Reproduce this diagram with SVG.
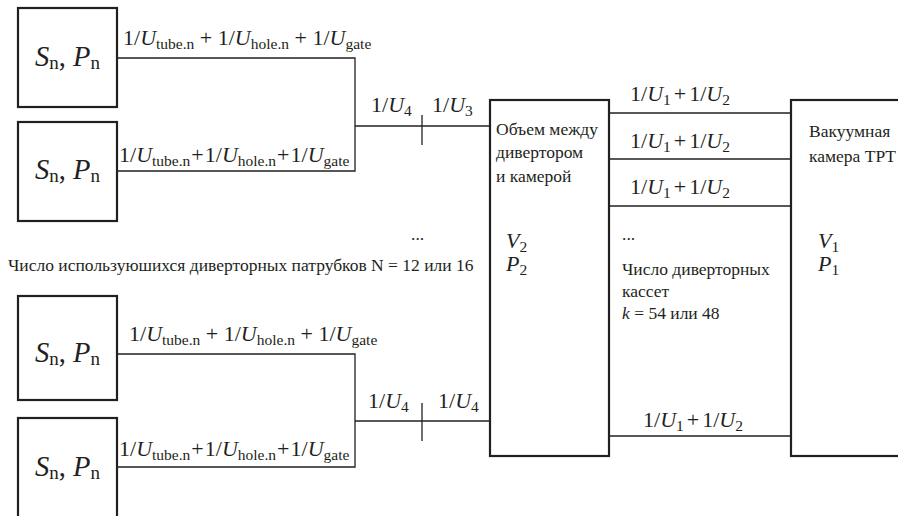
<svg xmlns="http://www.w3.org/2000/svg" width="898" height="516" viewBox="0 0 898 516">
  <style>
    text { font-family: 'Liberation Serif', 'DejaVu Serif', 'Times New Roman', serif; fill: #231f20; }
    .box { fill: none; stroke: #231f20; stroke-width: 2.2; }
    .wire { fill: none; stroke: #231f20; stroke-width: 1.3; }
    .lbl { font-size: 22px; }
    .big { font-size: 28.5px; }
    .txt { font-size: 17.5px; }
    .i { font-style: italic; }
    .sub { font-size: 15.5px; }
    .bsub { font-size: 19px; }
  </style>
  <rect width="898" height="516" fill="#ffffff"/>

  <!-- pump nodes -->
  <g id="pump1">
    <rect class="box" x="18" y="8" width="99" height="99"/>
    <text class="big" x="35" y="66"><tspan class="i">S</tspan><tspan class="bsub" dy="3">n</tspan><tspan dy="-3">, </tspan><tspan class="i">P</tspan><tspan class="bsub" dy="3">n</tspan></text>
  </g>
  <g id="pump2">
    <rect class="box" x="18" y="122" width="99" height="99"/>
    <text class="big" x="35" y="179"><tspan class="i">S</tspan><tspan class="bsub" dy="3">n</tspan><tspan dy="-3">, </tspan><tspan class="i">P</tspan><tspan class="bsub" dy="3">n</tspan></text>
  </g>
  <g id="pump3">
    <rect class="box" x="18" y="296" width="99" height="104"/>
    <text class="big" x="35" y="362"><tspan class="i">S</tspan><tspan class="bsub" dy="3">n</tspan><tspan dy="-3">, </tspan><tspan class="i">P</tspan><tspan class="bsub" dy="3">n</tspan></text>
  </g>
  <g id="pump4">
    <rect class="box" x="18" y="418" width="99" height="110"/>
    <text class="big" x="35" y="476"><tspan class="i">S</tspan><tspan class="bsub" dy="3">n</tspan><tspan dy="-3">, </tspan><tspan class="i">P</tspan><tspan class="bsub" dy="3">n</tspan></text>
  </g>

  <!-- intermediate volume -->
  <g id="volume2">
    <rect class="box" x="490" y="100" width="119" height="356"/>
    <text class="txt" x="496" y="135">Объем между</text>
    <text class="txt" x="496" y="158">дивертором</text>
    <text class="txt" x="496" y="182">и камерой</text>
    <text class="lbl" x="506" y="248"><tspan class="i">V</tspan><tspan class="sub" dy="4">2</tspan></text>
    <text class="lbl" x="506" y="271"><tspan class="i">P</tspan><tspan class="sub" dy="4">2</tspan></text>
  </g>

  <!-- vacuum chamber -->
  <g id="chamber">
    <rect class="box" x="791" y="100" width="130" height="356"/>
    <text class="txt" x="809" y="137">Вакуумная</text>
    <text class="txt" x="809" y="162">камера ТРТ</text>
    <text class="lbl" x="818" y="248"><tspan class="i">V</tspan><tspan class="sub" dy="4">1</tspan></text>
    <text class="lbl" x="818" y="271"><tspan class="i">P</tspan><tspan class="sub" dy="4">1</tspan></text>
  </g>

  <!-- connectors -->
  <g id="connectors">
    <polyline class="wire" points="117,58 355,58 355,171 117,171"/>
    <line class="wire" x1="355" y1="126" x2="490" y2="126"/>
    <line class="wire" x1="422" y1="115" x2="422" y2="145"/>
    <polyline class="wire" points="117,354 355,354 355,467 117,467"/>
    <line class="wire" x1="355" y1="421" x2="490" y2="421"/>
    <line class="wire" x1="422" y1="403" x2="422" y2="441"/>
    <line class="wire" x1="609" y1="113" x2="791" y2="113"/>
    <line class="wire" x1="609" y1="159" x2="791" y2="159"/>
    <line class="wire" x1="609" y1="206" x2="791" y2="206"/>
    <line class="wire" x1="609" y1="436" x2="791" y2="436"/>
  </g>

  <!-- connector labels -->
  <g id="labels">
    <text class="lbl" x="123" y="45">1/<tspan class="i">U</tspan><tspan class="sub" dy="4">tube.n</tspan><tspan dy="-4"> + 1/</tspan><tspan class="i">U</tspan><tspan class="sub" dy="4">hole.n</tspan><tspan dy="-4"> + 1/</tspan><tspan class="i">U</tspan><tspan class="sub" dy="4">gate</tspan></text>
    <text class="lbl" x="119" y="162">1/<tspan class="i">U</tspan><tspan class="sub" dy="4">tube.n</tspan><tspan dy="-4" dx="1">+</tspan><tspan dx="1">1/</tspan><tspan class="i">U</tspan><tspan class="sub" dy="4">hole.n</tspan><tspan dy="-4" dx="1">+</tspan><tspan dx="1">1/</tspan><tspan class="i">U</tspan><tspan class="sub" dy="4">gate</tspan></text>
    <text class="lbl" x="129" y="341">1/<tspan class="i">U</tspan><tspan class="sub" dy="4">tube.n</tspan><tspan dy="-4"> + 1/</tspan><tspan class="i">U</tspan><tspan class="sub" dy="4">hole.n</tspan><tspan dy="-4"> + 1/</tspan><tspan class="i">U</tspan><tspan class="sub" dy="4">gate</tspan></text>
    <text class="lbl" x="119" y="456">1/<tspan class="i">U</tspan><tspan class="sub" dy="4">tube.n</tspan><tspan dy="-4" dx="1">+</tspan><tspan dx="1">1/</tspan><tspan class="i">U</tspan><tspan class="sub" dy="4">hole.n</tspan><tspan dy="-4" dx="1">+</tspan><tspan dx="1">1/</tspan><tspan class="i">U</tspan><tspan class="sub" dy="4">gate</tspan></text>

    <text class="lbl" x="371" y="112">1/<tspan class="i">U</tspan><tspan class="sub" dy="4">4</tspan></text>
    <text class="lbl" x="432" y="112">1/<tspan class="i">U</tspan><tspan class="sub" dy="4">3</tspan></text>
    <text class="lbl" x="368" y="408">1/<tspan class="i">U</tspan><tspan class="sub" dy="4">4</tspan></text>
    <text class="lbl" x="438" y="408">1/<tspan class="i">U</tspan><tspan class="sub" dy="4">4</tspan></text>

    <text class="lbl" x="630" y="101">1/<tspan class="i">U</tspan><tspan class="sub" dy="4">1</tspan><tspan dy="-4" dx="3">+</tspan><tspan dx="3">1/</tspan><tspan class="i">U</tspan><tspan class="sub" dy="4">2</tspan></text>
    <text class="lbl" x="630" y="148">1/<tspan class="i">U</tspan><tspan class="sub" dy="4">1</tspan><tspan dy="-4" dx="3">+</tspan><tspan dx="3">1/</tspan><tspan class="i">U</tspan><tspan class="sub" dy="4">2</tspan></text>
    <text class="lbl" x="630" y="194">1/<tspan class="i">U</tspan><tspan class="sub" dy="4">1</tspan><tspan dy="-4" dx="3">+</tspan><tspan dx="3">1/</tspan><tspan class="i">U</tspan><tspan class="sub" dy="4">2</tspan></text>
    <text class="lbl" x="643" y="427">1/<tspan class="i">U</tspan><tspan class="sub" dy="4">1</tspan><tspan dy="-4" dx="3">+</tspan><tspan dx="3">1/</tspan><tspan class="i">U</tspan><tspan class="sub" dy="4">2</tspan></text>
  </g>

  <!-- notes -->
  <g id="notes">
    <text class="txt" x="411" y="240">...</text>
    <text class="txt" x="8" y="271">Число используюшихся диверторных патрубков N = 12 или 16</text>
    <text class="txt" x="622" y="240">...</text>
    <text class="txt" x="622" y="275">Число диверторных</text>
    <text class="txt" x="622" y="297">кассет</text>
    <text class="txt" x="622" y="319"><tspan class="i">k</tspan> = 54 или 48</text>
  </g>
</svg>
